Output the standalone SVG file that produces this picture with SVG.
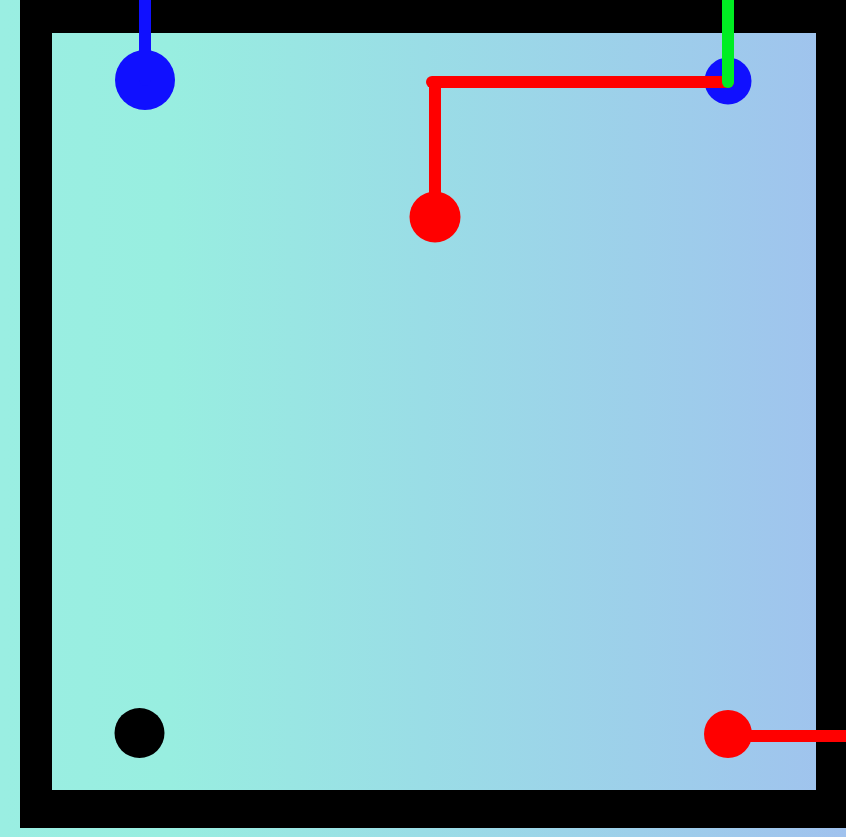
<svg xmlns="http://www.w3.org/2000/svg" width="846" height="837" viewBox="0 0 846 837">
<defs>
<linearGradient id="bg" x1="0" y1="0" x2="846" y2="0" gradientUnits="userSpaceOnUse">
<stop offset="0" stop-color="#9aeee2"/>
<stop offset="0.2" stop-color="#98eee0"/>
<stop offset="0.5" stop-color="#9adde6"/>
<stop offset="1" stop-color="#a0c2ee"/>
</linearGradient>
</defs>
<style>
.wire{fill:none;stroke-linecap:round;stroke-width:12}
</style>
<rect x="0" y="0" width="846" height="837" fill="url(#bg)"/>
<g id="frame">
<rect x="20" y="-10" width="840" height="838" fill="#000"/>
<rect x="52" y="33" width="764" height="757" fill="url(#bg)"/>
</g>
<g id="node-tl"><circle cx="145" cy="80" r="30" fill="#1010ff"/></g>
<g id="node-tr"><circle cx="728" cy="81" r="23.5" fill="#1010ff"/></g>
<g id="node-mid"><circle cx="435" cy="217" r="25.5" fill="#ff0000"/></g>
<g id="node-bl"><circle cx="139.5" cy="733" r="25" fill="#000"/></g>
<g id="node-br"><circle cx="728" cy="734" r="24" fill="#ff0000"/></g>
<g id="connectors">
<line class="wire" x1="145" y1="-5" x2="145" y2="80" stroke="#1010ff" stroke-linecap="butt" stroke-width="14"/>
<polyline class="wire" points="728,82 432,82" stroke="#ff0000"/>
<polyline class="wire" points="435,82 435,217" stroke="#ff0000" stroke-width="11"/>
<line class="wire" x1="728" y1="-5" x2="728" y2="82" stroke="#00ee22" stroke-width="13"/>
<line class="wire" x1="728" y1="736" x2="850" y2="736" stroke="#ff0000" stroke-linecap="butt" stroke-width="13"/>
</g>
</svg>
